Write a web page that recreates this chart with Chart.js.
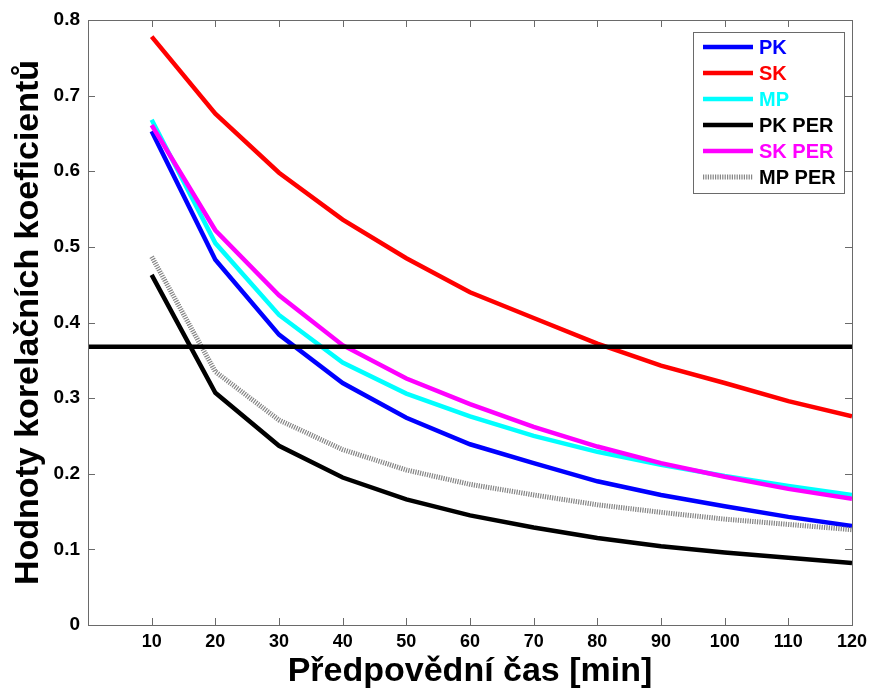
<!DOCTYPE html>
<html>
<head>
<meta charset="utf-8">
<title>Hodnoty korelačních koeficientů</title>
<script src="https://cdn.jsdelivr.net/npm/chart.js@4/dist/chart.umd.min.js"></script>
<style>
  html, body { margin: 0; padding: 0; background: #fff; }
  canvas { display: block; }
</style>
</head>
<body>
<canvas id="corrChart" width="870" height="689"></canvas>
<script>
// --- DATA ---
const leadTimes = [10, 20, 30, 40, 50, 60, 70, 80, 90, 100, 110, 120];
const pk    = [0.653, 0.483, 0.384, 0.320, 0.274, 0.239, 0.214, 0.190, 0.172, 0.157, 0.143, 0.131];
const sk    = [0.778, 0.676, 0.598, 0.536, 0.485, 0.440, 0.406, 0.372, 0.343, 0.320, 0.296, 0.276];
const mp    = [0.668, 0.505, 0.410, 0.347, 0.306, 0.276, 0.250, 0.229, 0.212, 0.197, 0.184, 0.172];
const pkPer = [0.463, 0.307, 0.237, 0.195, 0.166, 0.145, 0.129, 0.115, 0.104, 0.096, 0.089, 0.082];
const skPer = [0.661, 0.522, 0.436, 0.370, 0.326, 0.292, 0.262, 0.236, 0.214, 0.196, 0.180, 0.167];
const mpPer = [0.487, 0.335, 0.271, 0.232, 0.205, 0.186, 0.172, 0.159, 0.149, 0.140, 0.133, 0.126];
const threshold = 0.368; // 1/e
const xTicks = [10, 20, 30, 40, 50, 60, 70, 80, 90, 100, 110, 120];
const yTicks = [0, 0.1, 0.2, 0.3, 0.4, 0.5, 0.6, 0.7, 0.8];

const FONT = "'Liberation Sans', Arial, sans-serif";

const toPoints = (vals) => vals.map((v, i) => ({ x: leadTimes[i], y: v }));

const series = [
    { label: 'PK',     data: pk,    color: '#0000ff', text: '#0000ff' },
    { label: 'SK',     data: sk,    color: '#ff0000', text: '#ff0000' },
    { label: 'MP',     data: mp,    color: '#00ffff', text: '#00ffff' },
    { label: 'PK PER', data: pkPer, color: '#000000', text: '#000000' },
    { label: 'SK PER', data: skPer, color: '#ff00ff', text: '#ff00ff' },
    { label: 'MP PER', data: mpPer, color: '#858585', text: '#000000', dash: [1.2, 1.2] }
];

const datasets = series.map((s, i) => ({
    label: s.label,
    data: toPoints(s.data),
    borderColor: s.color,
    backgroundColor: s.color,
    borderWidth: s.dash ? 5 : 4.5,
    borderDash: s.dash || [],
    pointRadius: 0,
    tension: 0,
    legendText: s.text,
    order: series.length - i + 1
}));

// horizontal reference line across the whole axis
datasets.push({
    label: 'threshold',
    data: [{ x: 0, y: threshold }, { x: 120, y: threshold }],
    borderColor: '#000000',
    borderWidth: 4.5,
    pointRadius: 0,
    order: 0,
    hideInLegend: true
});

// MATLAB-like frame: box around the axes plus inward ticks on all four sides
const framePlugin = {
    id: 'frame',
    afterDatasetsDraw(chart) {
        const { ctx, chartArea: a, scales: { x, y } } = chart;
        const len = 7;
        ctx.save();
        ctx.strokeStyle = '#6a6a6a';
        ctx.lineWidth = 1;
        ctx.beginPath();
        xTicks.forEach(v => {
            const px = Math.round(x.getPixelForValue(v)) + 0.5;
            ctx.moveTo(px, a.bottom); ctx.lineTo(px, a.bottom - len);
            ctx.moveTo(px, a.top);    ctx.lineTo(px, a.top + len);
        });
        yTicks.forEach(v => {
            const py = Math.round(y.getPixelForValue(v)) + 0.5;
            ctx.moveTo(a.left, py);  ctx.lineTo(a.left + len, py);
            ctx.moveTo(a.right, py); ctx.lineTo(a.right - len, py);
        });
        ctx.stroke();
        ctx.strokeRect(Math.round(a.left) + 0.5, Math.round(a.top) + 0.5,
            Math.round(a.right - a.left), Math.round(a.bottom - a.top));
        ctx.restore();
    }
};

// legend box in the upper right corner of the plot
const legendPlugin = {
    id: 'boxLegend',
    afterDraw(chart) {
        const { ctx, chartArea: a } = chart;
        const items = chart.data.datasets.filter(d => !d.hideInLegend);
        const boxW = 151, rowH = 26;
        const boxX = a.right - 8 - boxW, boxY = a.top + 12;
        const boxH = items.length * rowH + 5;
        ctx.save();
        ctx.fillStyle = '#fff';
        ctx.fillRect(boxX, boxY, boxW, boxH);
        ctx.strokeStyle = '#6a6a6a';
        ctx.lineWidth = 1;
        ctx.strokeRect(boxX + 0.5, boxY + 0.5, boxW, boxH);
        ctx.font = 'bold 20px ' + FONT;
        ctx.textBaseline = 'middle';
        items.forEach((d, i) => {
            const cy = boxY + 15 + i * rowH;
            ctx.beginPath();
            ctx.strokeStyle = d.borderColor;
            ctx.lineWidth = d.borderWidth;
            ctx.setLineDash(d.borderDash || []);
            ctx.moveTo(boxX + 10, cy);
            ctx.lineTo(boxX + 60, cy);
            ctx.stroke();
            ctx.setLineDash([]);
            ctx.fillStyle = d.legendText;
            ctx.fillText(d.label, boxX + 66, cy + 1);
        });
        ctx.restore();
    }
};

new Chart(document.getElementById('corrChart').getContext('2d'), {
    type: 'line',
    data: { datasets: datasets },
    options: {
        responsive: false,
        animation: false,
        layout: { padding: { top: 20, right: 18, left: 0, bottom: 0 } },
        plugins: {
            legend: { display: false },
            tooltip: { enabled: false }
        },
        scales: {
            x: {
                type: 'linear',
                min: 0,
                max: 120,
                afterBuildTicks: (scale) => { scale.ticks = xTicks.map(v => ({ value: v })); },
                afterFit: (scale) => {
                    scale.height = 64;
                    scale.paddingLeft = 0;
                    scale.paddingRight = 0;
                },
                grid: { display: false, drawTicks: false },
                border: { display: false },
                ticks: {
                    color: '#000',
                    padding: 6,
                    maxRotation: 0,
                    autoSkip: false,
                    font: { family: FONT, size: 18, weight: 'bold' }
                },
                title: {
                    display: true,
                    text: 'Předpovědní čas [min]',
                    color: '#000',
                    padding: { top: 0, bottom: 0 },
                    font: { family: FONT, size: 34, weight: 'bold', lineHeight: 1.0 }
                }
            },
            y: {
                min: 0,
                max: 0.8,
                afterBuildTicks: (scale) => { scale.ticks = yTicks.map(v => ({ value: v })); },
                afterFit: (scale) => {
                    scale.width = 88;
                    scale.paddingTop = 0;
                    scale.paddingBottom = 0;
                },
                grid: { display: false, drawTicks: false },
                border: { display: false },
                ticks: {
                    color: '#000',
                    padding: 8,
                    font: { family: FONT, size: 19, weight: 'bold' },
                    callback: (v) => v === 0 ? '0' : v.toFixed(1)
                },
                title: {
                    display: true,
                    text: 'Hodnoty korelačních koeficientů',
                    color: '#000',
                    padding: { top: 8, bottom: 0 },
                    font: { family: FONT, size: 34, weight: 'bold', lineHeight: 1.2 }
                }
            }
        }
    },
    plugins: [framePlugin, legendPlugin]
});
</script>
</body>
</html>
